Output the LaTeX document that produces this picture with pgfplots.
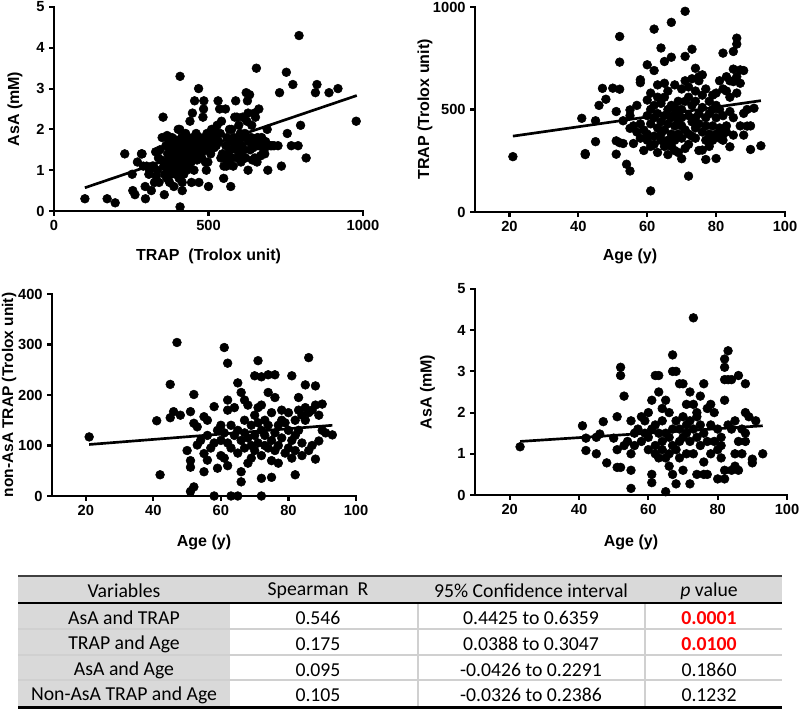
\documentclass[border=0pt]{standalone}
\usepackage{pgfplots}
\pgfplotsset{compat=1.18}
\usepackage{fontspec}
\setmainfont{Liberation Sans}
\newfontfamily\tabfont{Carlito}
\definecolor{hdrgrey}{HTML}{D9D9D9}
\definecolor{sepgrey}{HTML}{D0D0D0}
\definecolor{pred}{HTML}{FF0000}
\newcommand{\lab}{\fontsize{12}{14}\selectfont\bfseries}
\pgfplotsset{gp/.style={
  scale only axis, axis lines*=left, axis line style={-, line width=2.2pt, line cap=rect},
  tick align=outside, major tick length=3.5pt, tick style={line width=1.6pt, black},
  clip=false, scaled ticks=false,
  /pgf/number format/assume math mode=true, /pgf/number format/1000 sep={},
  tick label style={font=\fontsize{11}{13}\selectfont\bfseries},
  minor tick num=0,
}}
\pgfplotsset{dots/.style={only marks, mark=*, mark size=3.3pt, black, mark options={fill=black, draw=black}}}
\pgfplotsset{fit/.style={no marks, line width=2pt, black}}
\begin{document}
\begin{tikzpicture}
\useasboundingbox (0,0) rectangle (600pt,532.5pt);
% ---------- Plot 1 ----------
\begin{axis}[gp, at={(40.5pt,374.25pt)}, anchor=south west, width=231.75pt, height=153pt,
  xmin=0, xmax=1000, ymin=0, ymax=5, xtick={0,500,1000}, ytick={0,1,2,3,4,5},
  xlabel={\lab TRAP\ \ (Trolox unit)}, ylabel={\lab AsA (mM)},
  xlabel style={at={(axis description cs:0.5,-0.22)}, anchor=center},
  ylabel style={at={(axis description cs:-0.126,0.5)}, anchor=center}]
\addplot[dots] table {
100 0.3
172 0.3
198 0.2
229 1.4
253 0.9
255 0.5
262 0.4
270 1.2
283 1.4
285 1.4
289 1.1
295 0.6
296 0.3
300 1.1
307 0.9
310 1.0
315 0.5
318 1.1
322 1.1
325 0.7
329 1.45
331 0.85
334 1.0
338 1.3
340 0.7
343 1.5
347 1.25
350 1.8
353 2.3
355 1.1
357 0.4
358 0.9
360 1.2
362 1.6
363 1.2
365 0.8
366 1.85
368 1.4
370 1.0
372 1.7
374 0.7
375 1.3
377 1.5
379 1.1
380 0.9
382 1.8
384 1.2
385 1.6
387 1.0
388 0.6
390 1.4
391 1.75
393 1.3
395 0.9
396 1.1
398 1.5
400 1.7
401 1.2
402 2.0
404 1.4
405 0.8
407 2.0
408 3.3
408 0.1
409 1.0
410 1.6
412 1.3
413 1.8
415 0.5
415 0.7
416 1.1
418 1.5
419 1.7
420 0.9
421 1.3
423 1.6
425 1.2
426 1.9
427 1.45
429 1.0
430 1.7
431 1.4
433 1.55
434 1.8
435 1.1
437 1.3
438 1.65
440 2.2
441 1.5
442 1.75
444 1.2
445 0.7
446 1.6
448 2.4
449 1.4
450 1.8
452 1.5
453 1.0
455 2.7
455 1.7
457 1.35
458 1.6
460 1.9
461 1.5
463 1.25
464 1.75
466 1.4
468 3.0
469 0.7
470 1.6
472 1.8
474 1.5
476 1.7
478 1.3
480 1.45
482 2.3
484 2.5
485 2.7
486 1.6
488 1.8
490 1.2
492 1.65
493 1.0
495 1.9
497 1.5
498 1.2
500 0.6
501 1.75
503 1.85
505 1.6
507 1.4
510 2.0
512 1.7
515 1.9
518 1.55
520 2.0
523 1.8
525 1.6
528 2.1
531 2.7
533 1.7
536 2.5
538 1.9
540 1.3
542 2.2
545 1.4
549 0.8
550 1.1
552 1.3
555 2.5
556 1.6
558 1.1
560 1.8
563 1.4
565 1.2
568 2.0
570 1.5
572 0.6
574 1.7
575 2.0
577 1.3
580 1.1
582 1.8
585 2.3
586 1.55
588 2.7
590 1.5
592 2.3
594 1.3
596 1.7
598 2.1
600 1.4
603 1.9
605 1.2
608 1.6
610 2.3
612 1.8
615 1.5
618 1.9
620 1.3
622 2.9
624 2.2
626 2.7
628 2.4
628 1.0
630 1.7
633 2.85
635 1.5
638 1.8
640 2.1
642 1.25
644 1.55
646 1.7
649 2.4
650 1.3
652 2.3
655 3.5
657 1.2
659 1.8
660 1.6
663 2.5
665 1.75
668 1.35
670 1.6
672 1.8
675 1.4
680 1.5
682 1.4
685 1.7
690 2.0
692 1.0
700 1.6
705 1.6
712 1.6
725 1.6
730 2.9
736 1.1
752 3.4
755 1.9
768 1.6
773 3.1
790 1.6
793 4.3
798 2.1
816 1.3
846 2.9
851 3.1
890 2.9
919 3.0
978 2.2
};
\addplot[fit] coordinates {(100,0.57) (980,2.83)};
\end{axis}
% ---------- Plot 2 ----------
\begin{axis}[gp, at={(356.25pt,373.5pt)}, anchor=south west, width=232.5pt, height=153.75pt,
  xmin=10, xmax=100, ymin=0, ymax=1000, xtick={20,40,60,80,100}, ytick={0,500,1000},
  xlabel={\lab Age (y)}, ylabel={\lab TRAP (Trolox unit)},
  xlabel style={at={(axis description cs:0.5,-0.215)}, anchor=center},
  ylabel style={at={(axis description cs:-0.161,0.5)}, anchor=center}]
\addplot[dots] table {
21 270
41 457
42 285
42 280
45 445
45 343
46 520
47 603
48 550
50 604
51 490
51 347
51 282
52 856
52 731
52 599
52 338
53 445
53 334
54 233
55 200
55 498
55 408
55 470
56 334
56 420
57 390
57 520
58 645
58 631
58 360
58 430
59 400
59 300
60 718
60 546
60 470
60 350
60 380
61 103
61 320
61 430
61 500
61 580
62 892
62 690
62 370
62 460
62 520
62 330
63 410
63 290
63 560
63 480
63 620
64 800
64 350
64 440
64 530
64 380
65 734
65 628
65 470
65 320
65 400
65 560
66 500
66 350
66 430
66 590
66 280
67 755
67 925
67 460
67 380
67 520
67 320
68 505
68 420
68 350
68 470
68 620
68 300
69 440
69 380
69 540
69 290
69 480
70 260
70 600
70 420
70 360
70 500
70 460
71 979
71 759
71 540
71 310
71 400
71 640
72 175
72 470
72 560
72 380
72 330
72 610
73 794
73 440
73 520
73 650
73 370
74 701
74 460
74 590
74 410
74 360
74 540
75 480
75 640
75 300
75 430
75 660
76 669
76 302
76 510
76 390
76 570
77 256
77 460
77 600
77 350
77 420
78 540
78 480
78 380
78 320
79 570
79 420
79 500
79 350
80 261
80 460
80 520
80 380
80 580
81 640
81 410
81 360
81 500
82 775
82 600
82 380
82 470
82 350
83 660
83 420
83 590
83 390
84 490
84 318
84 640
84 560
85 783
85 697
85 375
85 636
85 460
86 819
86 848
86 660
86 580
87 693
87 628
87 420
88 481
88 375
88 690
89 419
89 500
90 305
90 420
91 506
93 323
};
\addplot[fit] coordinates {(21,370) (93,543)};
\end{axis}
% ---------- Plot 3 ----------
\begin{axis}[gp, at={(39pt,160.5pt)}, anchor=south west, width=228pt, height=151.5pt,
  xmin=10, xmax=100, ymin=0, ymax=400, xtick={20,40,60,80,100}, ytick={0,100,200,300,400},
  xlabel={\lab Age (y)}, ylabel={\fontsize{11.6}{13}\selectfont\bfseries non-AsA TRAP (Trolox unit)},
  xlabel style={at={(axis description cs:0.5,-0.228)}, anchor=center},
  ylabel style={at={(axis description cs:-0.141,0.5)}, anchor=center}]
\addplot[dots] table {
21 117
41 149
42 42
45 221
45 155
46 167
47 304
48 160
50 90
51 167
51 70
51 57
51 9
52 18
52 201
52 144
53 137
53 101
54 110
55 157
55 84
55 48
56 150
56 71
56 120
57 95
58 177
58 0
58 105
59 55
59 130
60 110
60 80
60 140
61 294
61 75
61 125
62 263
62 190
62 170
62 60
62 105
63 0
63 140
63 95
64 120
64 175
65 0
65 224
65 85
65 130
66 28
66 48
66 110
66 205
67 190
67 95
67 150
67 125
68 65
68 180
68 115
69 140
69 100
69 75
70 238
70 160
70 120
70 90
71 268
71 175
71 105
71 145
72 236
72 0
72 35
72 130
72 80
72 180
73 100
73 150
73 120
74 240
74 205
74 95
74 140
75 37
75 165
75 110
75 70
76 240
76 125
76 195
76 90
77 140
77 100
77 65
78 150
78 115
78 170
79 145
79 85
80 130
80 165
80 95
81 238
81 110
81 75
82 42
82 150
82 120
82 90
83 195
83 170
83 130
84 160
84 105
84 80
85 220
85 175
85 150
86 274
86 90
86 165
87 170
87 100
88 218
88 73
88 180
89 109
89 160
90 182
90 130
91 125
93 121
};
\addplot[fit] coordinates {(21,102) (93,140)};
\end{axis}
% ---------- Plot 4 ----------
\begin{axis}[gp, at={(356.25pt,161.25pt)}, anchor=south west, width=234pt, height=154.5pt,
  xmin=10, xmax=100, ymin=0, ymax=5, xtick={20,40,60,80,100}, ytick={0,1,2,3,4,5},
  xlabel={\lab Age (y)}, ylabel={\lab AsA (mM)},
  xlabel style={at={(axis description cs:0.5,-0.228)}, anchor=center},
  ylabel style={at={(axis description cs:-0.152,0.5)}, anchor=center}]
\addplot[dots] table {
23 1.17
41 1.68
42 1.38
42 1.08
45 1.0
45 1.4
46 1.48
47 1.78
48 0.78
50 1.38
51 1.9
51 1.1
51 0.67
52 0.67
52 3.1
52 2.9
53 2.4
53 1.2
54 1.3
55 0.16
55 0.6
55 1.0
55 1.8
56 1.5
56 1.2
57 1.6
58 1.9
58 1.3
59 1.5
59 1.8
60 2.0
60 1.4
60 1.1
61 0.5
61 0.3
61 2.3
61 1.6
62 2.9
62 1.2
62 1.7
62 1.0
63 2.9
63 1.5
63 2.5
63 0.9
64 1.3
64 1.8
64 2.1
64 1.1
65 0.08
65 1.5
65 2.3
65 0.9
66 1.4
66 1.0
66 2.0
66 0.7
67 3.4
67 3.0
67 1.6
67 1.2
67 0.5
68 3.0
68 0.27
68 1.8
68 1.1
69 1.3
69 2.7
69 0.9
69 1.6
70 2.7
70 1.4
70 1.9
70 0.6
71 1.5
71 2.2
71 1.0
71 1.7
72 0.27
72 2.5
72 1.3
72 1.8
73 4.3
73 2.2
73 1.6
73 1.0
74 1.4
74 2.0
74 1.9
74 0.5
75 2.4
75 1.2
75 1.7
76 2.7
76 0.8
76 1.5
76 0.5
77 1.3
77 2.1
77 0.5
78 2.2
78 1.7
78 1.0
79 2.0
79 1.3
80 0.39
80 1.1
80 1.6
81 1.4
81 0.9
81 1.2
82 3.3
82 3.1
82 2.8
82 2.3
82 0.39
82 0.6
83 3.5
83 2.8
83 1.7
84 0.6
84 1.6
84 2.8
85 1.8
85 1.0
85 0.7
86 2.9
86 1.3
86 0.6
87 1.0
87 1.6
88 2.7
88 2.0
88 1.5
88 1.3
89 1.9
90 0.87
90 0.78
91 1.8
93 1.0
};
\addplot[fit] coordinates {(23,1.3) (93,1.68)};
\end{axis}
% ---------- Table ----------
\begin{scope}[shift={(0,532.5pt)}, x=0.75pt, y=-0.75pt, font=\tabfont\fontsize{14.8}{17}\selectfont]
\fill[hdrgrey] (18,576) rectangle (782,603);
\fill[hdrgrey] (18,603) rectangle (230,707);
\foreach \yy in {629,655,680} \draw[sepgrey, line width=0.8pt] (18,\yy) -- (782,\yy);
\foreach \xx in {418,645} \draw[sepgrey, line width=0.8pt] (\xx,603) -- (\xx,707);
\draw[black!75, line width=1.2pt] (18,576) -- (782,576);
\draw[black, line width=2pt] (18,603) -- (782,603);
\draw[black, line width=2pt] (18,707.5) -- (782,707.5);
\node at (124,591) {Variables};
\node at (318,591) {Spearman\ \ R};
\node at (531,591) {95\% Confidence interval};
\node at (709,591) {\textit{p}\ value};
\node at (124,618) {AsA and TRAP};
\node at (318,618) {0.546};
\node at (531,618) {0.4425 to 0.6359};
\node[text=pred] at (709,618) {\bfseries 0.0001};
\node at (124,644) {TRAP and Age};
\node at (318,644) {0.175};
\node at (531,644) {0.0388 to 0.3047};
\node[text=pred] at (709,644) {\bfseries 0.0100};
\node at (124,670) {AsA and Age};
\node at (318,670) {0.095};
\node at (531,670) {-0.0426 to 0.2291};
\node at (709,670) {0.1860};
\node at (124,695) {Non-AsA TRAP and Age};
\node at (318,695) {0.105};
\node at (531,695) {-0.0326 to 0.2386};
\node at (709,695) {0.1232};
\end{scope}
\end{tikzpicture}
\end{document}
